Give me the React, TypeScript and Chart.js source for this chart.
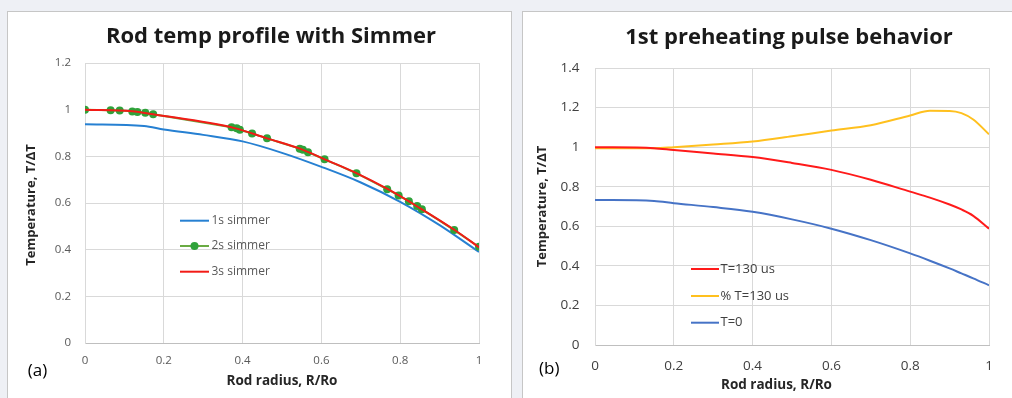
import React, { useEffect, useRef } from "react";
import { Chart, registerables } from "chart.js";

Chart.register(...registerables);

// ---------- Data: panel (a) ----------
const titleA = "Rod temp profile with Simmer";
const xTitle = "Rod radius, R/Ro";
const yTitle = "Temperature, T/ΔT";
const seriesNamesA = ["1s simmer", "2s simmer", "3s simmer"];

const r1s = [0, 0.15, 0.2, 0.3, 0.4, 0.5, 0.6, 0.7, 0.8, 0.9, 1.0];
const t1s = [0.937, 0.93, 0.915, 0.892, 0.864, 0.815, 0.755, 0.688, 0.605, 0.505, 0.39];

const r2s = [0, 0.065, 0.088, 0.12, 0.133, 0.153, 0.173, 0.372, 0.385, 0.393, 0.424, 0.462, 0.545, 0.553, 0.566, 0.608, 0.689, 0.767, 0.796, 0.822, 0.843, 0.855, 0.937, 1.0];
const t2s = [1.0, 0.997, 0.996, 0.992, 0.99, 0.987, 0.98, 0.925, 0.92, 0.914, 0.898, 0.877, 0.833, 0.828, 0.818, 0.787, 0.727, 0.659, 0.632, 0.608, 0.587, 0.573, 0.484, 0.412];

const r3s = [0, 0.12, 0.173, 0.38, 0.46, 0.55, 0.61, 0.69, 0.77, 0.85, 0.94, 1.0];
const t3s = [1.0, 0.993, 0.98, 0.921, 0.878, 0.83, 0.786, 0.727, 0.658, 0.578, 0.482, 0.41];

const xTicksA = [0, 0.2, 0.4, 0.6, 0.8, 1];
const yTicksA = [0, 0.2, 0.4, 0.6, 0.8, 1, 1.2];

// ---------- Data: panel (b) ----------
const titleB = "1st preheating pulse behavior";
const seriesNamesB = ["T=130 us", "% T=130 us", "T=0"];

const rB = [0, 0.15, 0.2, 0.3, 0.4, 0.5, 0.6, 0.7, 0.8, 0.85, 0.9, 0.93, 0.96, 1.0];
const tB130 = [1.0, 0.995, 0.985, 0.968, 0.95, 0.92, 0.885, 0.835, 0.775, 0.745, 0.71, 0.685, 0.653, 0.588];
const tBpct = [0.995, 0.995, 1.0, 1.013, 1.028, 1.055, 1.084, 1.111, 1.16, 1.184, 1.183, 1.172, 1.14, 1.065];
const tB0 = [0.733, 0.728, 0.717, 0.697, 0.673, 0.635, 0.588, 0.53, 0.463, 0.426, 0.387, 0.362, 0.337, 0.302];

const xTicksB = [0, 0.2, 0.4, 0.6, 0.8, 1];
const yTicksB = [0, 0.2, 0.4, 0.6, 0.8, 1, 1.2, 1.4];

const FONT = '"Open Sans", "Liberation Sans", sans-serif';

const pts = (xs: number[], ys: number[]) => xs.map((x, i) => ({ x, y: ys[i] }));
const fmt = (v: number) => String(Number(Number(v).toFixed(1)));

const overlayPlugin = {
  id: "overlay",
  afterDraw(chart: any, _args: any, opts: any) {
    const ctx = chart.ctx;
    ctx.save();
    for (const t of opts.texts || []) {
      ctx.save();
      ctx.font = t.font;
      ctx.fillStyle = t.color;
      ctx.textAlign = "center";
      ctx.textBaseline = "middle";
      ctx.translate(t.x, t.y);
      if (t.rotate) ctx.rotate(-Math.PI / 2);
      ctx.fillText(t.text, 0, 0);
      ctx.restore();
    }
    const lg = opts.legend;
    if (lg) {
      lg.items.forEach((idx: number, row: number) => {
        const ds = chart.data.datasets[idx];
        const y = lg.rows[row];
        ctx.strokeStyle = ds.legendLine || ds.borderColor;
        ctx.lineWidth = 2;
        ctx.beginPath();
        ctx.moveTo(lg.x0, y);
        ctx.lineTo(lg.x1, y);
        ctx.stroke();
        if (ds.pointRadius > 0) {
          ctx.fillStyle = ds.pointBackgroundColor;
          ctx.beginPath();
          ctx.arc((lg.x0 + lg.x1) / 2, y, ds.pointRadius, 0, Math.PI * 2);
          ctx.fill();
        }
        ctx.font = lg.font;
        ctx.fillStyle = lg.color;
        ctx.textAlign = "left";
        ctx.textBaseline = "middle";
        ctx.fillText(ds.label, lg.tx, y);
      });
    }
    ctx.restore();
  },
};

type Geo = { w: number; h: number; left: number; top: number; right: number; bottom: number };

function makeScales(geo: Geo, xTicks: number[], yTicks: number[], tickFont: number, tickColor: string, yPad: number, xPad: number) {
  return {
    x: {
      type: "linear",
      min: xTicks[0],
      max: xTicks[xTicks.length - 1],
      afterBuildTicks: (s: any) => {
        s.ticks = xTicks.map((v) => ({ value: v }));
      },
      afterFit: (s: any) => {
        s.height = geo.h - geo.bottom;
      },
      grid: { color: "#d9d9d9", lineWidth: 1, drawTicks: false },
      border: { color: "#bfbfbf", width: 1 },
      ticks: {
        padding: xPad,
        color: tickColor,
        font: { family: FONT, size: tickFont },
        callback: (v: number) => fmt(v),
        maxRotation: 0,
        autoSkip: false,
      },
    },
    y: {
      type: "linear",
      min: yTicks[0],
      max: yTicks[yTicks.length - 1],
      afterBuildTicks: (s: any) => {
        s.ticks = yTicks.map((v) => ({ value: v }));
      },
      afterFit: (s: any) => {
        s.width = geo.left;
      },
      grid: { color: "#d9d9d9", lineWidth: 1, drawTicks: false },
      border: { color: "#d9d9d9", width: 1 },
      ticks: {
        padding: yPad,
        color: tickColor,
        font: { family: FONT, size: tickFont },
        callback: (v: number) => fmt(v),
        autoSkip: false,
      },
    },
  };
}

function ChartA() {
  const ref = useRef<HTMLCanvasElement | null>(null);
  useEffect(() => {
    const geo: Geo = { w: 503, h: 386, left: 77, top: 51, right: 471, bottom: 331 };
    const chart = new Chart(ref.current as HTMLCanvasElement, {
      type: "line",
      data: {
        datasets: [
          {
            label: seriesNamesA[0],
            data: pts(r1s, t1s),
            borderColor: "#2680d2",
            borderWidth: 2,
            pointRadius: 0,
            tension: 0.3,
            cubicInterpolationMode: "monotone",
            order: 3,
          },
          {
            label: seriesNamesA[1],
            data: pts(r2s, t2s),
            borderColor: "#6aab43",
            legendLine: "#6aab43",
            borderWidth: 2,
            pointRadius: 4,
            pointBackgroundColor: "#2fa23a",
            pointBorderWidth: 0,
            tension: 0.2,
            order: 2,
          },
          {
            label: seriesNamesA[2],
            data: pts(r3s, t3s),
            borderColor: "#f21b16",
            borderWidth: 2,
            pointRadius: 0,
            tension: 0.3,
            cubicInterpolationMode: "monotone",
            order: 1,
          },
        ] as any,
      },
      options: {
        animation: false,
        responsive: false,
        maintainAspectRatio: false,
        layout: { padding: { left: 0, top: geo.top, right: geo.w - geo.right, bottom: 0 } },
        scales: makeScales(geo, xTicksA, yTicksA, 11.5, "#595959", 14, 10.5) as any,
        plugins: {
          legend: { display: false },
          tooltip: { enabled: false },
          overlay: {
            texts: [
              { text: titleA, x: 263, y: 24.5, font: `bold 22px ${FONT}`, color: "#1a1a1a" },
              { text: xTitle, x: 274, y: 369.5, font: `bold 13.5px ${FONT}`, color: "#262626" },
              { text: yTitle, x: 23, y: 193, font: `bold 13px ${FONT}`, color: "#262626", rotate: true },
              { text: "(a)", x: 29.5, y: 359.5, font: `17px ${FONT}`, color: "#000000" },
            ],
            legend: { items: [0, 1, 2], rows: [208.7, 234, 259.7], x0: 172, x1: 201, tx: 203.5, font: `12px ${FONT}`, color: "#595959" },
          },
        } as any,
      },
      plugins: [overlayPlugin as any],
    });
    return () => chart.destroy();
  }, []);
  return <canvas ref={ref} width={503} height={386} style={{ display: "block", width: 503, height: 386 }} />;
}

function ChartB() {
  const ref = useRef<HTMLCanvasElement | null>(null);
  useEffect(() => {
    const geo: Geo = { w: 489, h: 386, left: 72, top: 56, right: 466, bottom: 333 };
    const chart = new Chart(ref.current as HTMLCanvasElement, {
      type: "line",
      data: {
        datasets: [
          {
            label: seriesNamesB[0],
            data: pts(rB, tB130),
            borderColor: "#ff1a1a",
            borderWidth: 2,
            pointRadius: 0,
            tension: 0.3,
            cubicInterpolationMode: "monotone",
          },
          {
            label: seriesNamesB[1],
            data: pts(rB, tBpct),
            borderColor: "#ffc01e",
            borderWidth: 2,
            pointRadius: 0,
            tension: 0.3,
            cubicInterpolationMode: "monotone",
          },
          {
            label: seriesNamesB[2],
            data: pts(rB, tB0),
            borderColor: "#4673c6",
            borderWidth: 2,
            pointRadius: 0,
            tension: 0.3,
            cubicInterpolationMode: "monotone",
          },
        ] as any,
      },
      options: {
        animation: false,
        responsive: false,
        maintainAspectRatio: false,
        layout: { padding: { left: 0, top: geo.top, right: geo.w - geo.right, bottom: 0 } },
        scales: makeScales(geo, xTicksB, yTicksB, 13.5, "#404040", 15.5, 13.5) as any,
        plugins: {
          legend: { display: false },
          tooltip: { enabled: false },
          overlay: {
            texts: [
              { text: titleB, x: 266, y: 26, font: `bold 22px ${FONT}`, color: "#1a1a1a" },
              { text: xTitle, x: 253.5, y: 373, font: `bold 13.5px ${FONT}`, color: "#262626" },
              { text: yTitle, x: 19, y: 194.5, font: `bold 13px ${FONT}`, color: "#262626", rotate: true },
              { text: "(b)", x: 26.3, y: 357, font: `17px ${FONT}`, color: "#000000" },
            ],
            legend: { items: [0, 1, 2], rows: [257, 284, 310.7], x0: 168, x1: 196, tx: 197.5, font: `13px ${FONT}`, color: "#404040" },
          },
        } as any,
      },
      plugins: [overlayPlugin as any],
    });
    return () => chart.destroy();
  }, []);
  return <canvas ref={ref} width={489} height={386} style={{ display: "block", width: 489, height: 386 }} />;
}

export default function App() {
  useEffect(() => {
    document.body.style.margin = "0";
    document.body.style.overflow = "hidden";
  }, []);
  return (
    <div style={{ position: "relative", width: 1012, height: 398, background: "#eef0f5", overflow: "hidden" }}>
      <div
        style={{
          position: "absolute",
          left: 7,
          top: 11,
          width: 503,
          height: 400,
          background: "#ffffff",
          border: "1px solid #c6c6c6",
        }}
      >
        <ChartA />
      </div>
      <div
        style={{
          position: "absolute",
          left: 522,
          top: 11,
          width: 500,
          height: 400,
          background: "#ffffff",
          border: "1px solid #c6c6c6",
        }}
      >
        <ChartB />
      </div>
    </div>
  );
}
